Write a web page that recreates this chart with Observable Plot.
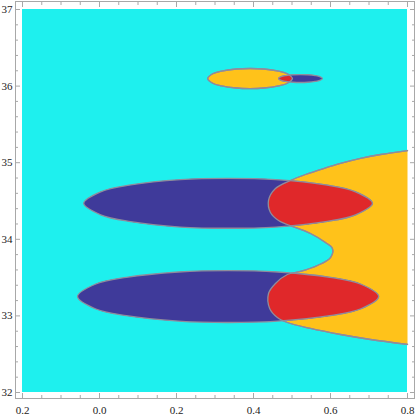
<!DOCTYPE html>
<html>
<head>
<meta charset="utf-8">
<script src="https://cdn.jsdelivr.net/npm/d3@7"></script>
<script src="https://cdn.jsdelivr.net/npm/@observablehq/plot@0.6"></script>
<style>
  html, body { margin: 0; padding: 0; background: #fff; }
  #chart svg { display: block; }
</style>
</head>
<body>
<div id="chart"></div>
<script>
// ---- axes / ticks ----
const xDomain = [-0.2, 0.8];
const yDomain = [32, 37];
const xMajorTicks = [-0.2, 0.0, 0.2, 0.4, 0.6, 0.8];
const xTickLabels = ["0.2", "0.0", "0.2", "0.4", "0.6", "0.8"];
const xMinorTicks = [-0.15, -0.1, -0.05, 0.05, 0.1, 0.15, 0.25, 0.3, 0.35, 0.45, 0.5, 0.55, 0.65, 0.7, 0.75];
const yMajorTicks = [32, 33, 34, 35, 36, 37];
const yTickLabels = ["32", "33", "34", "35", "36", "37"];
const yMinorTicks = [32.2, 32.4, 32.6, 32.8, 33.2, 33.4, 33.6, 33.8, 34.2, 34.4, 34.6, 34.8, 35.2, 35.4, 35.6, 35.8, 36.2, 36.4, 36.6, 36.8];

// ---- region boundaries ([x, y]) ----
// left edge of the yellow region (region extends right to x = 0.8)
const yellowBoundary = [
  [0.800, 35.159], [0.730, 35.107], [0.678, 35.055], [0.626, 34.990], [0.582, 34.924],
  [0.535, 34.846], [0.496, 34.768], [0.457, 34.663], [0.439, 34.507], [0.444, 34.350],
  [0.465, 34.245], [0.488, 34.193], [0.548, 34.076], [0.587, 33.958], [0.605, 33.880],
  [0.600, 33.762], [0.566, 33.658], [0.522, 33.580], [0.488, 33.540], [0.457, 33.423],
  [0.439, 33.292], [0.442, 33.097], [0.462, 32.979], [0.488, 32.914], [0.548, 32.836],
  [0.626, 32.757], [0.704, 32.692], [0.800, 32.627]
];
const navyUpper = [
  [-0.041, 34.47], [0.003, 34.62], [0.081, 34.71], [0.210, 34.78], [0.334, 34.796],
  [0.458, 34.78], [0.587, 34.71], [0.665, 34.62], [0.709, 34.47], [0.665, 34.32],
  [0.587, 34.23], [0.458, 34.16], [0.334, 34.144], [0.210, 34.16], [0.081, 34.23], [0.003, 34.32]
];
const navyLower = [
  [-0.057, 33.253], [-0.011, 33.413], [0.070, 33.503], [0.205, 33.573], [0.334, 33.592],
  [0.463, 33.573], [0.598, 33.503], [0.679, 33.413], [0.725, 33.253], [0.679, 33.093],
  [0.598, 33.003], [0.463, 32.933], [0.334, 32.914], [0.205, 32.933], [0.070, 33.003], [-0.011, 33.093]
];
const yellowSmall = [
  [0.281, 36.099], [0.294, 36.161], [0.317, 36.196], [0.355, 36.223], [0.391, 36.230],
  [0.427, 36.223], [0.465, 36.196], [0.488, 36.161], [0.501, 36.099], [0.488, 36.037],
  [0.465, 36.002], [0.427, 35.975], [0.391, 35.968], [0.355, 35.975], [0.317, 36.002], [0.294, 36.037]
];
const navySmall = [
  [0.465, 36.099], [0.472, 36.123], [0.484, 36.137], [0.503, 36.148], [0.522, 36.151],
  [0.541, 36.148], [0.560, 36.137], [0.572, 36.123], [0.579, 36.099], [0.572, 36.075],
  [0.560, 36.061], [0.541, 36.050], [0.522, 36.047], [0.503, 36.050], [0.484, 36.061], [0.472, 36.075]
];

// ---- colours ----
const CYAN = "#1ef0ee", NAVY = "#3f3a9a", RED = "#e0282a", YELLOW = "#ffc21a", EDGE = "#8f8c9c";
const FRAME = "#a8a8a8";
const SVGNS = "http://www.w3.org/2000/svg";

const pts = a => a.map(([x, y]) => ({x, y}));

// render hook: register the drawn path as a clipPath with the given id
const asClip = id => (index, scales, values, dims, context, next) => {
  const g = next(index, scales, values, dims, context);
  const src = g.querySelector("path");
  const cp = document.createElementNS(SVGNS, "clipPath");
  cp.setAttribute("id", id);
  const p = document.createElementNS(SVGNS, "path");
  p.setAttribute("d", src.getAttribute("d"));
  cp.appendChild(p);
  g.appendChild(cp);
  return g;
};
// render hook: clip the drawn mark by a registered clipPath
const clipBy = id => (index, scales, values, dims, context, next) => {
  const g = next(index, scales, values, dims, context);
  g.setAttribute("clip-path", `url(#${id})`);
  return g;
};

const shape = (a, opts) => Plot.line(pts(a), {x: "x", y: "y", stroke: EDGE, strokeWidth: 1.3, ...opts});

const chart = Plot.plot({
  width: 415,
  height: 416,
  marginLeft: 15,
  marginRight: 1,
  marginTop: 1,
  marginBottom: 18,
  style: {fontFamily: "'Liberation Serif', 'DejaVu Serif', serif", fontSize: "11px", color: "#222", background: "#fff"},
  x: {domain: xDomain, inset: 7},
  y: {domain: yDomain, insetTop: 8, insetBottom: 6},
  marks: [
    Plot.rect([{x1: xDomain[0], x2: xDomain[1], y1: yDomain[0], y2: yDomain[1]}], {x1: "x1", x2: "x2", y1: "y1", y2: "y2", fill: CYAN}),
    // big yellow region
    shape(yellowBoundary, {fill: YELLOW, curve: "catmull-rom", render: asClip("clip-yellow-big")}),
    // navy ellipses, then their overlap with yellow in red
    shape(navyUpper, {fill: NAVY, curve: "catmull-rom-closed"}),
    shape(navyLower, {fill: NAVY, curve: "catmull-rom-closed"}),
    shape(navyUpper, {fill: RED, curve: "catmull-rom-closed", render: clipBy("clip-yellow-big")}),
    shape(navyLower, {fill: RED, curve: "catmull-rom-closed", render: clipBy("clip-yellow-big")}),
    shape(yellowBoundary, {fill: "none", curve: "catmull-rom"}),
    // small cluster near y = 36.1
    shape(yellowSmall, {fill: YELLOW, curve: "catmull-rom-closed", render: asClip("clip-yellow-small")}),
    shape(navySmall, {fill: NAVY, curve: "catmull-rom-closed"}),
    shape(navySmall, {fill: RED, curve: "catmull-rom-closed", render: clipBy("clip-yellow-small")}),
    shape(yellowSmall, {fill: "none", curve: "catmull-rom-closed"}),
    Plot.frame({stroke: FRAME}),
    // bottom
    Plot.axisX({anchor: "bottom", ticks: xMajorTicks, tickSize: -5, tickPadding: 13, stroke: FRAME, label: null,
      tickFormat: d => xTickLabels[xMajorTicks.indexOf(d)]}),
    Plot.axisX({anchor: "bottom", ticks: xMinorTicks, tickSize: -3, stroke: FRAME, label: null, tickFormat: () => ""}),
    // top
    Plot.axisX({anchor: "top", ticks: xMajorTicks, tickSize: -5, stroke: FRAME, label: null, tickFormat: () => ""}),
    Plot.axisX({anchor: "top", ticks: xMinorTicks, tickSize: -3, stroke: FRAME, label: null, tickFormat: () => ""}),
    // left
    Plot.axisY({anchor: "left", ticks: yMajorTicks, tickSize: -5, tickPadding: 8, stroke: FRAME, label: null,
      tickFormat: d => yTickLabels[yMajorTicks.indexOf(d)]}),
    Plot.axisY({anchor: "left", ticks: yMinorTicks, tickSize: -3, stroke: FRAME, label: null, tickFormat: () => ""}),
    // right
    Plot.axisY({anchor: "right", ticks: yMajorTicks, tickSize: -5, stroke: FRAME, label: null, tickFormat: () => ""}),
    Plot.axisY({anchor: "right", ticks: yMinorTicks, tickSize: -3, stroke: FRAME, label: null, tickFormat: () => ""})
  ]
});
document.getElementById("chart").appendChild(chart);
</script>
</body>
</html>
